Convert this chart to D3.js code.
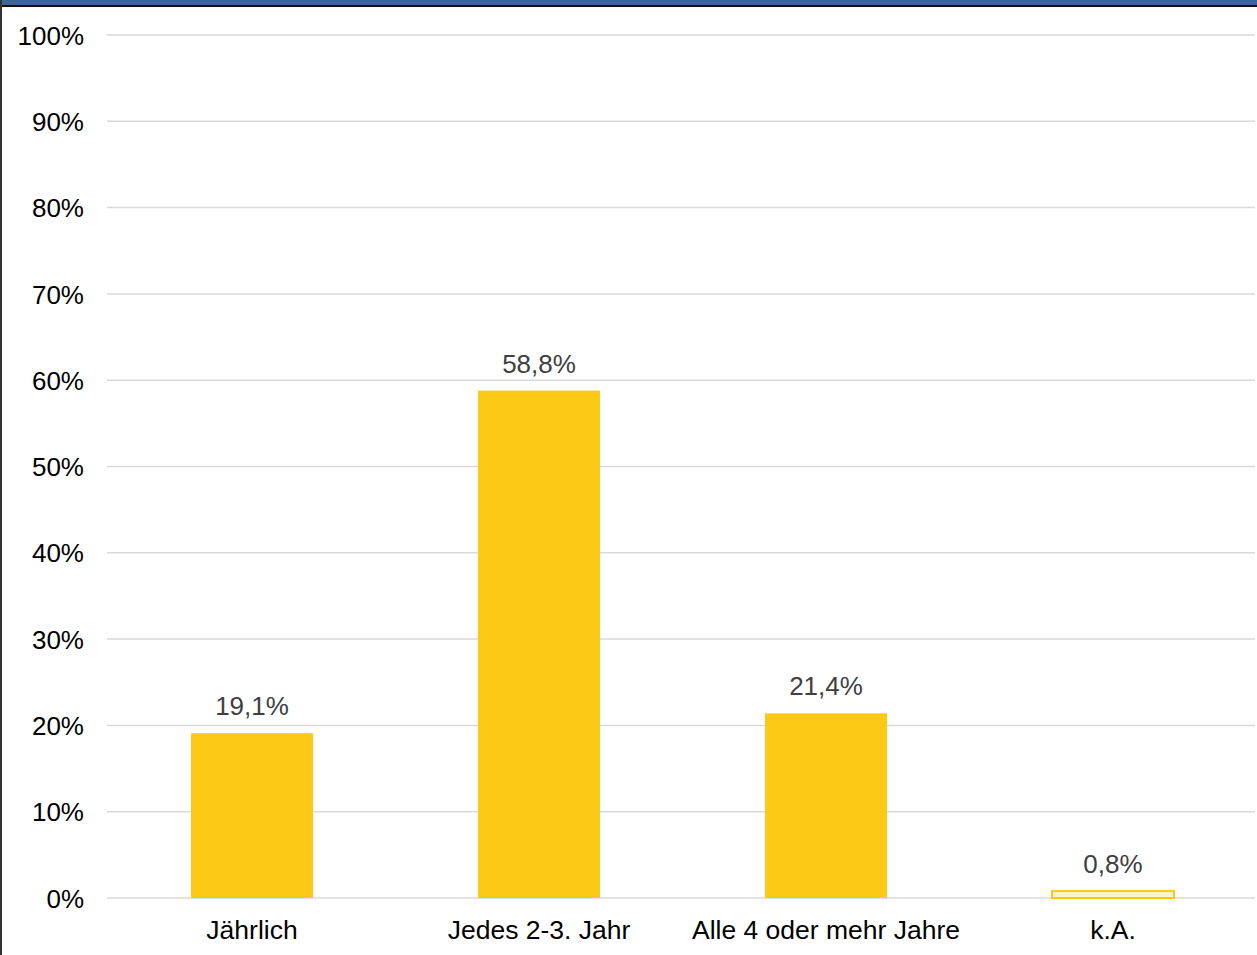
<!DOCTYPE html>
<html><head><meta charset="utf-8">
<script src="https://cdn.jsdelivr.net/npm/d3@7"></script>
<style>html,body{margin:0;padding:0;background:#fff;overflow:hidden}</style>
</head><body>
<svg id="c" width="1257" height="955"></svg>
<script>
const categories = ["Jährlich", "Jedes 2-3. Jahr", "Alle 4 oder mehr Jahre", "k.A."];
const values = [19.1, 58.8, 21.4, 0.8];
const labels = ["19,1%", "58,8%", "21,4%", "0,8%"];
const yTicks = [0, 10, 20, 30, 40, 50, 60, 70, 80, 90, 100];

const svg = d3.select("#c");
const W = 1257, H = 955;
const font = "'Liberation Sans', Arial, sans-serif";

// frame
svg.append("rect").attr("x",0).attr("y",0).attr("width",W).attr("height",5).attr("fill","#3c6695");
svg.append("rect").attr("x",0).attr("y",5).attr("width",W).attr("height",2).attr("fill","#111");
svg.append("rect").attr("x",0).attr("y",0).attr("width",2).attr("height",H).attr("fill","#333");

const x = d3.scaleBand().domain(categories).range([108.5, 1256.5]).paddingInner(0.575).paddingOuter(0.2875);
const y = d3.scaleLinear().domain([0, 100]).range([898, 35]);

// gridlines
svg.append("g").selectAll("line").data(yTicks).join("line")
  .attr("x1", 107).attr("x2", 1255)
  .attr("y1", d => y(d)).attr("y2", d => y(d))
  .attr("stroke", "#d9d9d9").attr("stroke-width", 1.5);

// y axis labels
const yAxis = d3.axisLeft(y).tickValues(yTicks).tickFormat(d => d + "%").tickSize(0).tickPadding(0);
const ya = svg.append("g").attr("transform", "translate(84,0)").call(yAxis);
ya.select(".domain").remove();
ya.selectAll("text").attr("font-family", font).attr("font-size", 26).attr("fill", "#000").attr("dy", "0.35em");

// bars
svg.append("g").selectAll("rect").data(values).join("rect")
  .attr("x", (d,i) => x(categories[i]))
  .attr("width", x.bandwidth())
  .attr("y", d => y(d))
  .attr("height", d => y(0) - y(d))
  .attr("fill", (d,i) => i === 3 ? "#fdf3d0" : "#fcc917")
  .attr("stroke", (d,i) => i === 3 ? "#fcc917" : "none")
  .attr("stroke-width", 2);

// value labels
svg.append("g").selectAll("text").data(values).join("text")
  .attr("x", (d,i) => x(categories[i]) + x.bandwidth()/2)
  .attr("y", d => y(d) - 18)
  .attr("text-anchor", "middle")
  .attr("font-family", font).attr("font-size", 26).attr("fill", "#404040")
  .text((d,i) => labels[i]);

// x axis labels
const xAxis = d3.axisBottom(x).tickSize(0).tickPadding(0);
const xa = svg.append("g").attr("transform", "translate(0,898)").call(xAxis);
xa.select(".domain").remove();
xa.selectAll("text").attr("font-family", font).attr("font-size", 26.5).attr("fill", "#000").attr("dy", "0").attr("y", 41);
</script>
</body></html>
